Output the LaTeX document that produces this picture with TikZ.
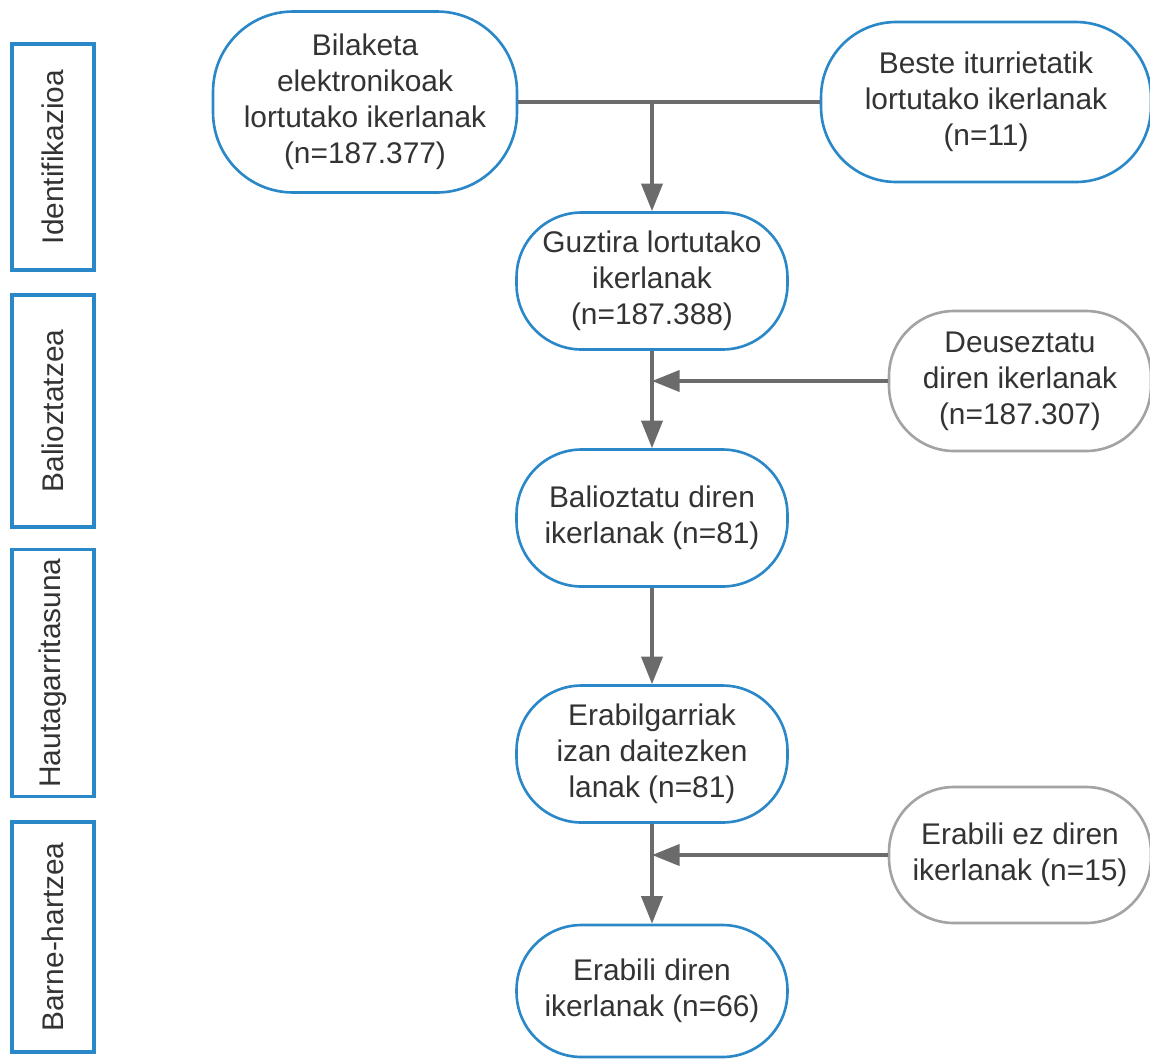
\documentclass[tikz,border=0pt]{standalone}
\usepackage{fontspec}
\setmainfont{Liberation Sans}
\usetikzlibrary{arrows.meta}

\definecolor{boxblue}{HTML}{2B88C8}
\definecolor{boxgray}{HTML}{A3A3A3}
\definecolor{linegray}{HTML}{6B6B6B}
\definecolor{textgray}{HTML}{333333}

\tikzset{
	stage/.style={draw=boxblue, line width=1.5pt, rounded corners=1.3cm, align=center,
		text=textgray, font=\fontsize{17}{20.5}\selectfont, inner sep=0pt,
		minimum width=5.42cm, minimum height=2.74cm},
	dropped/.style={stage, draw=boxgray, minimum width=5.18cm, minimum height=2.8cm},
	phase/.style={draw=boxblue, line width=1.8pt, rotate=90, text=textgray,
		font=\fontsize{17}{20.5}\selectfont, minimum height=1.64cm, inner sep=0pt},
	flow/.style={draw=linegray, line width=2.1pt, -{Triangle[length=0.55cm,width=0.42cm]}},
	flowline/.style={draw=linegray, line width=2.1pt}
}

\begin{document}
\begin{tikzpicture}[x=0.02cm,y=-0.02cm]
		\useasboundingbox (0,0) rectangle (1150,1059);

		% faseak
		\node[phase, minimum width=4.52cm] (ident) at (53,157) {Identifikazioa};
		\node[phase, minimum width=4.64cm] (balio) at (53,411) {Balioztatzea};
		\node[phase, minimum width=4.94cm] (hauta) at (53,673) {Hautagarritasuna};
		\node[phase, minimum width=4.60cm] (barne) at (53,937) {Barne-hartzea};

		% ikerlanak
		\node[stage, minimum width=6.08cm, minimum height=3.62cm, rounded corners=1.6cm] (bilaketa) at (365,102)
			{Bilaketa\\elektronikoak\\lortutako ikerlanak\\(n=187.377)};
		\node[stage, minimum width=6.6cm, minimum height=3.2cm, rounded corners=1.5cm] (beste) at (986,102)
			{Beste iturrietatik\\lortutako ikerlanak\\(n=11)};
		\node[stage] (guztira) at (652,281) {Guztira lortutako\\ikerlanak\\(n=187.388)};
		\node[dropped, minimum width=5.24cm] (deusez) at (1020,381) {Deuseztatu\\diren ikerlanak\\(n=187.307)};
		\node[stage] (balioz) at (652,518) {Balioztatu diren\\ikerlanak (n=81)};
		\node[stage] (erabilg) at (652,754) {Erabilgarriak\\izan daitezken\\lanak (n=81)};
		\node[dropped, minimum width=5.24cm, minimum height=2.72cm] (erabez) at (1020,855) {Erabili ez diren\\ikerlanak (n=15)};
		\node[stage, minimum height=2.64cm] (erabili) at (652,991) {Erabili diren\\ikerlanak (n=66)};

		% loturak
		\coordinate (batu) at (bilaketa.east -| guztira.north);
		\draw[flowline] (bilaketa.east) -- (beste.west);
		\draw[flow] (batu) -- (guztira.north);
		\draw[flow] (guztira.south) -- (balioz.north);
		\draw[flow] (deusez.west) -- (deusez.west -| guztira.south);
		\draw[flow] (balioz.south) -- (erabilg.north);
		\draw[flow] (erabilg.south) -- (erabili.north);
		\draw[flow] (erabez.west) -- (erabez.west -| erabilg.south);
	\end{tikzpicture}
\end{document}
